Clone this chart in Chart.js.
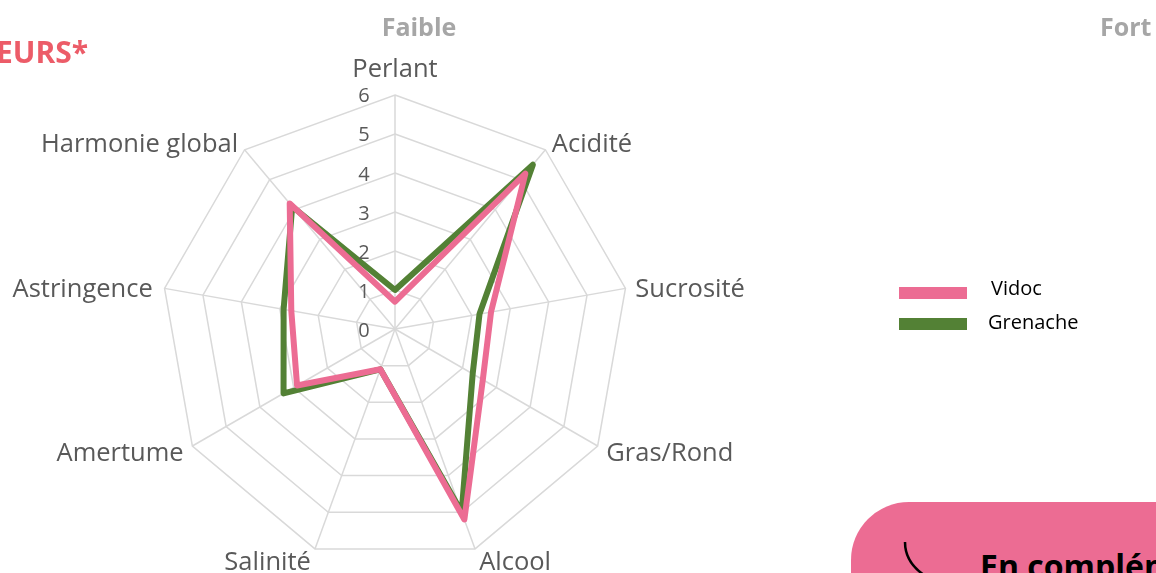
<!DOCTYPE html>
<html>
<head>
<meta charset="utf-8">
<script src="https://cdn.jsdelivr.net/npm/chart.js@4/dist/chart.umd.min.js"></script>
<style>
  html, body { margin: 0; padding: 0; background: #ffffff; }
  #wrap { position: relative; width: 1156px; height: 573px; overflow: hidden; background: #fff; font-family: 'Open Sans', sans-serif; }
  #chart { position: absolute; left: 0; top: 0; }
  .txt { position: absolute; white-space: nowrap; line-height: 1; }
  .swatch { position: absolute; width: 68px; height: 12px; }
  #box { position: absolute; left: 851px; top: 502px; width: 420px; height: 200px; background: #EC6C93; border-radius: 58px; }
</style>
</head>
<body>
<div id="wrap">
  <canvas id="chart" width="1156" height="573"></canvas>
  <div class="txt" style="left:-4px; top:37px; width:86px; text-align:right; font-weight:700; font-size:30px; color:#EC5C68;">EURS*</div>
  <div class="txt" style="left:369px; top:14px; width:100px; text-align:center; font-weight:700; font-size:25px; color:#A6A6A6;">Faible</div>
  <div class="txt" style="left:1100px; top:14px; font-weight:700; font-size:25px; color:#A6A6A6;">Fort</div>
  <div class="swatch" style="left:899px; top:287px; background:#EC6C93;"></div>
  <div class="swatch" style="left:899px; top:318px; background:#538135;"></div>
  <div class="txt" style="left:991px; top:278px; font-size:20px; color:#000;">Vidoc</div>
  <div class="txt" style="left:988px; top:312px; font-size:20px; color:#000;">Grenache</div>
  <div id="box"></div>
  <svg style="position:absolute;left:0;top:0" width="1156" height="573">
    <path d="M905,542 Q905,562 924,575" stroke="#000" stroke-width="2.5" fill="none"/>
  </svg>
  <div class="txt" style="left:980px; top:550px; font-weight:700; font-size:32px; color:#000;">En complément</div>
</div>
<script>
// ---- data ----
const categories = ['Perlant', 'Acidité', 'Sucrosité', 'Gras/Rond', 'Alcool', 'Salinité', 'Amertume', 'Astringence', 'Harmonie global'];
const vidoc    = [0.7, 5.2, 2.5, 2.6, 5.2, 1.1, 2.9, 2.7, 4.2];
const grenache = [1.0, 5.5, 2.2, 2.3, 5.0, 1.1, 3.3, 2.9, 4.1];
const tickValues = [0, 1, 2, 3, 4, 5, 6];

// ---- layout ----
const CX = 395, CY = 329, R = 234;
const LABEL_PAD = [28, 10, 10, 10, 12, 12, 10, 12, 10];
const LABEL_DY = 3;
const LABEL_FONT = { family: "'Open Sans', sans-serif", size: 25.5 };

const tickLabelPlugin = {
  id: 'tickLabels',
  afterDraw(chart) {
    const scale = chart.scales.r;
    const ctx = chart.ctx;
    ctx.save();
    ctx.font = "20px 'Open Sans', sans-serif";
    ctx.fillStyle = '#595959';
    ctx.textAlign = 'center';
    ctx.textBaseline = 'middle';
    tickValues.forEach(v => {
      const y = scale.yCenter - scale.getDistanceFromCenterForValue(v);
      ctx.fillText(String(v), scale.xCenter - 31, y + 2 + v * -0.15 + 0.5);
    });
    ctx.restore();
  }
};

new Chart(document.getElementById('chart'), {
  type: 'radar',
  data: {
    labels: categories,
    datasets: [
      { label: 'Vidoc', data: vidoc, borderColor: '#EC6C93', backgroundColor: '#EC6C93', borderWidth: 6, fill: false, pointRadius: 0, pointHoverRadius: 0, borderJoinStyle: 'round', tension: 0 },
      { label: 'Grenache', data: grenache, borderColor: '#538135', backgroundColor: '#538135', borderWidth: 6, fill: false, pointRadius: 0, pointHoverRadius: 0, borderJoinStyle: 'round', tension: 0 }
    ]
  },
  options: {
    responsive: false,
    devicePixelRatio: 1,
    animation: false,
    events: [],
    layout: { padding: 0 },
    plugins: { legend: { display: false }, tooltip: { enabled: false } },
    elements: { line: { borderJoinStyle: 'round' } },
    scales: {
      r: {
        min: 0, max: 6,
        ticks: { stepSize: 1, display: false },
        grid: { color: '#D9D9D9', lineWidth: 1.5 },
        angleLines: { color: '#D9D9D9', lineWidth: 1.5 },
        pointLabels: { font: LABEL_FONT, color: '#595959', padding: (ctx) => LABEL_PAD[ctx.index] },
        afterFit(scale) {
          scale.xCenter = CX;
          scale.yCenter = CY;
          scale.drawingArea = R;
          const ctx = scale.ctx;
          ctx.save();
          ctx.font = LABEL_FONT.size + 'px ' + LABEL_FONT.family;
          const lh = LABEL_FONT.size * 1.2;
          const items = [];
          for (let i = 0; i < scale._pointLabels.length; i++) {
            const pos = scale.getPointPosition(i, R + LABEL_PAD[i]);
            let deg = Math.round((pos.angle + Math.PI / 2) * 180 / Math.PI);
            deg = ((deg % 360) + 360) % 360;
            const align = (deg === 0 || deg === 180) ? 'center' : (deg < 180 ? 'left' : 'right');
            const w = ctx.measureText(scale._pointLabels[i]).width;
            const y = pos.y - lh / 2 + LABEL_DY;
            const left = align === 'left' ? pos.x : (align === 'right' ? pos.x - w : pos.x - w / 2);
            items.push({ visible: true, x: pos.x, y: y, textAlign: align, left: left, top: y, right: left + w, bottom: y + lh });
          }
          ctx.restore();
          scale._pointLabelItems = items;
        }
      }
    }
  },
  plugins: [tickLabelPlugin]
});
</script>
</body>
</html>
